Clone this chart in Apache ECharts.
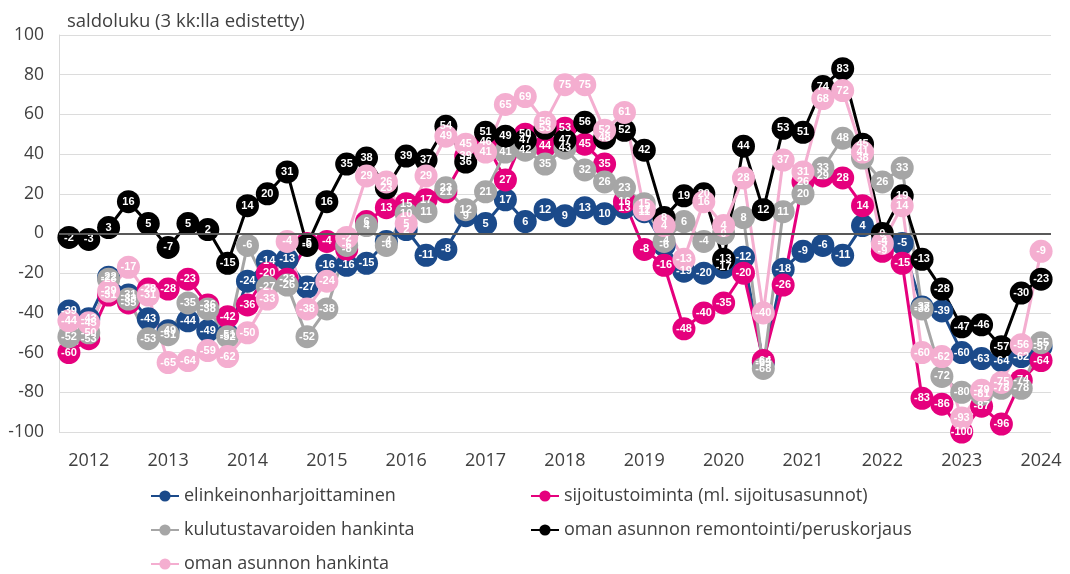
<!DOCTYPE html>
<html lang="fi" style="height: 100%">
<head>
    <meta charset="utf-8">
    <title>Saldoluku</title>
    <script src="https://cdn.jsdelivr.net/npm/echarts@6.0.0/dist/echarts.min.js"></script>
    <style>
        html, body { margin: 0; padding: 0; background: #fff; }
        #chart { width: 1070px; height: 574px; }
    </style>
</head>
<body>
<div id="chart"></div>
<script type="text/javascript">
    // neljännekset 2011Q4 - 2024Q1
    var quarters = [
        '2011Q4',
        '2012Q1', '2012Q2', '2012Q3', '2012Q4',
        '2013Q1', '2013Q2', '2013Q3', '2013Q4',
        '2014Q1', '2014Q2', '2014Q3', '2014Q4',
        '2015Q1', '2015Q2', '2015Q3', '2015Q4',
        '2016Q1', '2016Q2', '2016Q3', '2016Q4',
        '2017Q1', '2017Q2', '2017Q3', '2017Q4',
        '2018Q1', '2018Q2', '2018Q3', '2018Q4',
        '2019Q1', '2019Q2', '2019Q3', '2019Q4',
        '2020Q1', '2020Q2', '2020Q3', '2020Q4',
        '2021Q1', '2021Q2', '2021Q3', '2021Q4',
        '2022Q1', '2022Q2', '2022Q3', '2022Q4',
        '2023Q1', '2023Q2', '2023Q3', '2023Q4',
        '2024Q1'
    ];

    var elinkeino = [-39, -43, -22, -31, -43, -49, -44, -49, -51, -24, -14, -13, -27, -16, -16, -15, -4, 2, -11, -8,
        9, 5, 17, 6, 12, 9, 13, 10, 13, 11, -6, -19, -20, -17, -12, -65, -18, -9, -6, -11,
        4, -4, -5, -37, -39, -60, -63, -64, -62, -57];
    var sijoitus = [-60, -53, -31, -35, -28, -28, -23, -36, -42, -36, -20, -23, -5, -4, -8, 6, 13, 15, 17, 21,
        39, 46, 27, 50, 44, 53, 45, 35, 16, -8, -16, -48, -40, -35, -20, -64, -26, 26, 29, 28,
        14, -9, -15, -83, -86, -100, -87, -96, -74, -64];
    var kulutus = [-52, -50, -23, -33, -53, -51, -35, -38, -52, -6, -27, -26, -52, -38, -6, 4, -6, 10, 11, 23,
        12, 21, 41, 42, 35, 43, 32, 26, 23, 15, -4, 6, -4, 0, 8, -68, 11, 20, 33, 48,
        38, 26, 33, -38, -72, -80, -81, -78, -78, -55];
    var remontointi = [-2, -3, 3, 16, 5, -7, 5, 2, -15, 14, 20, 31, -6, 16, 35, 38, 23, 39, 37, 54,
        36, 51, 49, 47, 53, 47, 56, 48, 52, 42, 8, 19, 20, -13, 44, 12, 53, 51, 74, 83,
        45, 0, 19, -13, -28, -47, -46, -57, -30, -23];
    var hankinta = [-44, -45, -29, -17, -31, -65, -64, -59, -62, -50, -33, -4, -38, -24, -2, 29, 26, 5, 29, 49,
        45, 41, 65, 69, 56, 75, 75, 52, 61, 12, 4, -13, 16, 4, 28, -40, 37, 31, 68, 72,
        41, -5, 14, -60, -62, -93, -79, -75, -56, -9];

    var seriesNames = [
        'elinkeinonharjoittaminen',
        'sijoitustoiminta (ml. sijoitusasunnot)',
        'kulutustavaroiden hankinta',
        'oman asunnon remontointi/peruskorjaus',
        'oman asunnon hankinta'
    ];
    var seriesData = [elinkeino, sijoitus, kulutus, remontointi, hankinta];
    var colors = ['#1b4a8a', '#e5007d', '#a6a6a6', '#000000', '#f4aed0'];

    var font = '"Open Sans", "Noto Sans", sans-serif';

    var series = seriesData.map(function (d, i) {
        var s = {
            name: seriesNames[i],
            type: 'line',
            data: d,
            symbol: 'circle',
            symbolSize: 23,
            showSymbol: true,
            showAllSymbol: true,
            color: colors[i],
            lineStyle: { width: 3, color: colors[i] },
            itemStyle: { color: colors[i] },
            label: {
                show: true,
                position: 'inside',
                color: '#fff',
                fontSize: 11,
                fontWeight: 'bold',
                fontFamily: '"Liberation Sans", Arial, sans-serif'
            },
            emphasis: { disabled: true },
            animation: false
        };
        if (i === 0) {
            s.markLine = {
                silent: true,
                symbol: 'none',
                label: { show: false },
                lineStyle: { color: '#595959', width: 2, type: 'solid' },
                data: [{ yAxis: 0 }]
            };
        }
        return s;
    });

    var legendText = { fontSize: 18, color: '#404040', fontFamily: font, lineHeight: 18 };

    var chart = echarts.init(document.getElementById('chart'), null, { renderer: 'canvas' });
    chart.setOption({
        backgroundColor: '#fff',
        animation: false,
        title: {
            text: 'saldoluku (3 kk:lla edistetty)',
            left: 62,
            top: 7,
            textStyle: { fontSize: 18.5, fontWeight: 'normal', color: '#404040', fontFamily: font }
        },
        grid: { left: 59, right: 19, top: 35, bottom: 142 },
        legend: [
            {
                data: [seriesNames[0], seriesNames[2], seriesNames[4]],
                orient: 'vertical',
                left: 150,
                top: 487,
                padding: 0,
                height: 90,
                itemWidth: 28,
                itemHeight: 14,
                itemGap: 16,
                selectedMode: false,
                textStyle: legendText
            },
            {
                data: [seriesNames[1], seriesNames[3]],
                orient: 'vertical',
                left: 530,
                top: 487,
                padding: 0,
                height: 90,
                itemWidth: 28,
                itemHeight: 14,
                itemGap: 16,
                selectedMode: false,
                textStyle: legendText
            }
        ],
        xAxis: {
            type: 'category',
            data: quarters,
            boundaryGap: true,
            axisLine: { show: false },
            axisTick: { show: false },
            axisLabel: {
                interval: function (index) { return index % 4 === 1; },
                formatter: function (v) { return v.slice(0, 4); },
                fontSize: 18,
                color: '#404040',
                fontFamily: font,
                margin: 20
            },
            splitLine: { show: false }
        },
        yAxis: {
            type: 'value',
            min: -100,
            max: 100,
            interval: 20,
            axisLine: { show: true, lineStyle: { color: '#d9d9d9' } },
            axisTick: { show: false },
            axisLabel: { fontSize: 17.5, color: '#404040', fontFamily: font, margin: 15 },
            splitLine: { lineStyle: { color: '#dcdcdc', width: 1 } }
        },
        series: series
    });
</script>
</body>
</html>
